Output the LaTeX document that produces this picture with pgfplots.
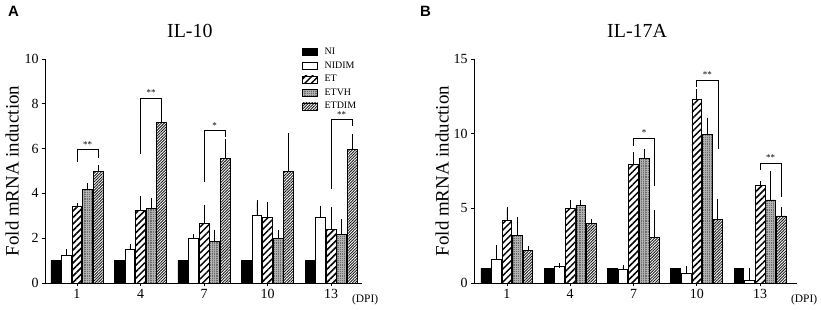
\documentclass[border=0pt]{standalone}
\usepackage{pgfplots}
\pgfplotsset{compat=1.18}
\usepackage{pgfplotstable}
\usepackage{fontspec}
\setmainfont{Liberation Serif}
\newfontfamily\arialfont{Liberation Sans}
\usetikzlibrary{patterns.meta}

% IL-10 (panel A): day, mean, error (+)
\pgfplotstableread{
x y
1 1
4 1
7 1
10 1
13 1
}\ANI
\pgfplotstableread{
x y e
1 1.24 0.16
4 1.48 0.17
7 2.00 0.10
10 3.00 0.60
13 2.94 0.42
}\ANIDIM
\pgfplotstableread{
x y e
1 3.43 0.05
4 3.23 0.57
7 2.67 0.72
10 2.93 0.61
13 2.38 0.90
}\AET
\pgfplotstableread{
x y e
1 4.16 0.20
4 3.33 0.35
7 1.86 0.41
10 2.00 0.27
13 2.15 0.60
}\AETVH
\pgfplotstableread{
x y e
1 4.96 0.20
4 7.18 0.65
7 5.57 0.75
10 4.98 1.60
13 5.98 0.56
}\AETDIM

% IL-17A (panel B)
\pgfplotstableread{
x y
1 1
4 1
7 1
10 1
13 1
}\BNI
\pgfplotstableread{
x y e
1 1.56 0.84
4 1.11 0.07
7 0.89 0.18
10 0.62 0.38
13 0.18 0.66
}\BNIDIM
\pgfplotstableread{
x y e
1 4.16 0.80
4 5.00 0.44
7 7.96 0.66
10 12.27 0.57
13 6.56 0.11
}\BET
\pgfplotstableread{
x y e
1 3.18 1.09
4 5.18 0.22
7 8.33 0.51
10 9.93 1.00
13 5.56 1.82
}\BETVH
\pgfplotstableread{
x y e
1 2.18 0.15
4 3.96 0.20
7 3.04 1.67
10 4.27 1.22
13 4.49 0.44
}\BETDIM

\tikzset{sigstar/.style={font=\fontsize{9}{9}\selectfont, inner sep=0pt}}
\pgfplotsset{
  legbox/.style={legend image code/.code={\draw[##1] (0bp,-3.5bp) rectangle (15bp,3.5bp);}},
  plainbar/.style={ybar, bar width=0.46, bar shift=0, draw=black, line width=0.8pt},
  mybar/.style={plainbar,
    error bars/y dir=plus, error bars/y explicit,
    error bars/error bar style={line width=0.8pt, black, solid},
    error bars/error mark options={line width=0.8pt, black, mark size=2.2bp}},
  sNI/.style={plainbar, fill=black, legbox},
  sNIDIM/.style={mybar, fill=white, legbox},
  sET/.style={mybar, fill=white, postaction={pattern={Lines[angle=45,distance=4.6bp,line width=1.5bp]}, pattern color=black}, legbox},
  sETVH/.style={mybar, fill=black!58, postaction={pattern={Hatch[angle=0,distance=2.2bp,line width=0.6bp]}, pattern color=black!30}, legbox},
  sETDIM/.style={mybar, fill=white, postaction={pattern={Lines[angle=45,distance=2.0bp,line width=0.9bp]}, pattern color=black!90}, legbox},
  myaxis/.style={
    scale only axis, clip=false,
    axis lines=left, axis line style={line width=0.9pt, -},
    ymin=0, xtick={1,4,7,10,13},
    tick align=outside, major tick length=3bp,
    tick style={black, line width=0.8pt},
    /pgf/number format/assume math mode=true,
    tick label style={font=\fontsize{14}{14}\selectfont},
    ylabel style={font=\fontsize{19}{19}\selectfont},
    title style={font=\fontsize{20}{20}\selectfont, anchor=base},
  },
}

\begin{document}
\begin{tikzpicture}
\path[use as bounding box] (0bp,0bp) rectangle (821bp,310bp);
\node[font=\arialfont\bfseries\fontsize{15}{15}\selectfont, anchor=north west, inner sep=0pt] at (8bp,304bp) {A};
\node[font=\arialfont\bfseries\fontsize{15}{15}\selectfont, anchor=north west, inner sep=0pt] at (420bp,304bp) {B};

\begin{axis}[myaxis,
  at={(45bp,27bp)}, anchor=south west,
  width=317bp, height=224bp,
  xmin=-0.51, xmax=14.46, ymax=10,
  ytick={0,2,4,6,8,10},
  title={IL-10}, title style={at={(axis description cs:0.457,1.07)}},
  ylabel={Fold mRNA induction},
  ylabel style={at={(axis description cs:-0.104,0.5)}, anchor=center},
  legend style={at={(axis description cs:0.811,1.055)}, anchor=north west, draw=none, fill=none,
    inner sep=0pt, font=\fontsize{10}{10}\selectfont, row sep=2.5bp,
    nodes={inner sep=1.5bp},
    /tikz/every odd column/.append style={column sep=5bp}},
  legend cell align=left,
]
\addplot[sNI] table[x expr=\thisrow{x}-1, y=y]{\ANI};
\addplot[sNIDIM] table[x expr=\thisrow{x}-0.5, y=y, y error=e]{\ANIDIM};
\addplot[sET] table[x=x, y=y, y error=e]{\AET};
\addplot[sETVH] table[x expr=\thisrow{x}+0.5, y=y, y error=e]{\AETVH};
\addplot[sETDIM] table[x expr=\thisrow{x}+1, y=y, y error=e]{\AETDIM};
\legend{NI,NIDIM,ET,ETVH,ETDIM}
% significance brackets
\draw[line width=0.7pt] (axis cs:1,5.4) |- (axis cs:2,5.95) -- (axis cs:2,5.6);
\node[sigstar] at (axis cs:1.5,6.2) {**};
\draw[line width=0.7pt] (axis cs:4,5.75) |- (axis cs:5,8.25) -- (axis cs:5,7.95);
\node[sigstar] at (axis cs:4.5,8.5) {**};
\draw[line width=0.7pt] (axis cs:7,4.5) |- (axis cs:8,6.8) -- (axis cs:8,6.5);
\node[sigstar] at (axis cs:7.5,7.05) {*};
\draw[line width=0.7pt] (axis cs:13,4.2) |- (axis cs:14,7.3) -- (axis cs:14,7.0);
\node[sigstar] at (axis cs:13.5,7.5) {**};
\node[font=\fontsize{11.5}{11.5}\selectfont] at (axis description cs:1.01,-0.076) {(DPI)};
\end{axis}

\begin{axis}[myaxis,
  at={(474bp,27bp)}, anchor=south west,
  width=323bp, height=224bp,
  xmin=-0.56, xmax=14.75, ymax=15,
  ytick={0,5,10,15},
  title={IL-17A}, title style={at={(axis description cs:0.505,1.07)}},
  ylabel={Fold mRNA induction},
  ylabel style={at={(axis description cs:-0.099,0.5)}, anchor=center},
]
\addplot[sNI] table[x expr=\thisrow{x}-1, y=y]{\BNI};
\addplot[sNIDIM] table[x expr=\thisrow{x}-0.5, y=y, y error=e]{\BNIDIM};
\addplot[sET] table[x=x, y=y, y error=e]{\BET};
\addplot[sETVH] table[x expr=\thisrow{x}+0.5, y=y, y error=e]{\BETVH};
\addplot[sETDIM] table[x expr=\thisrow{x}+1, y=y, y error=e]{\BETDIM};
\draw[line width=0.7pt] (axis cs:7,9.16) |- (axis cs:8,9.67) -- (axis cs:8,6.49);
\node[sigstar] at (axis cs:7.5,10.05) {*};
\draw[line width=0.7pt] (axis cs:10,13.1) |- (axis cs:11,13.56) -- (axis cs:11,9.0);
\node[sigstar] at (axis cs:10.5,13.95) {**};
\draw[line width=0.7pt] (axis cs:13,7.56) |- (axis cs:14,8.04) -- (axis cs:14,5.78);
\node[sigstar] at (axis cs:13.5,8.43) {**};
\node[font=\fontsize{11.5}{11.5}\selectfont] at (axis description cs:1.022,-0.076) {(DPI)};
\end{axis}
\end{tikzpicture}
\end{document}
